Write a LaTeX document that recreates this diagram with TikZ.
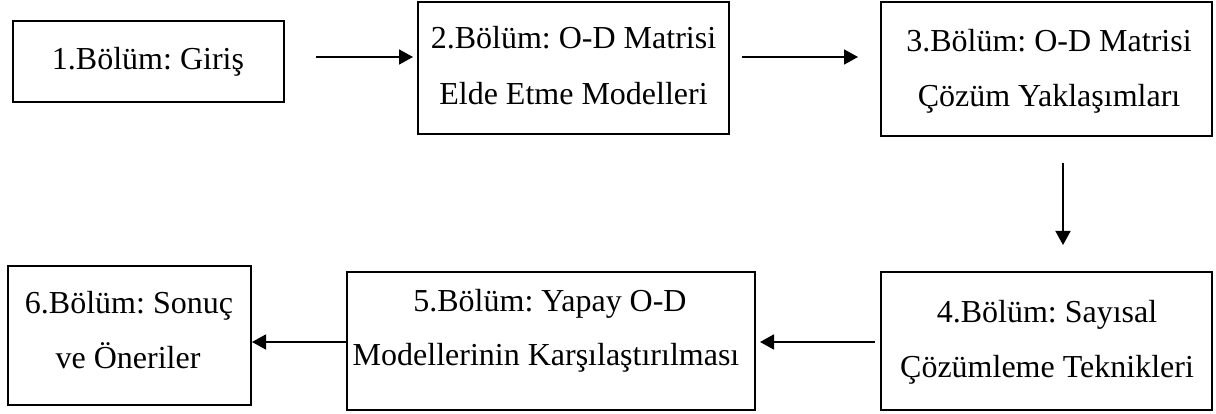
\documentclass[tikz,border=0pt]{standalone}
\usepackage{fontspec}
\setmainfont{Liberation Serif}
\usetikzlibrary{arrows.meta}
\frenchspacing
\tikzset{
  box/.style={draw=black, line width=1.7pt, inner sep=0pt, fill=none},
  txt/.style={anchor=base, inner sep=0pt, font=\fontsize{32}{32}\selectfont},
  arr/.style={line width=1.7pt, -{Triangle[length=14pt,width=15pt]}}
}
\begin{document}
\begin{tikzpicture}[x=1pt,y=-1pt]
\useasboundingbox (0,0) rectangle (1216,414);
% boxes
\node[box, minimum width=271pt, minimum height=81pt]  (b1) at (148.5,61.5) {};
\node[box, minimum width=311pt, minimum height=132pt] (b2) at (573.5,68) {};
\node[box, minimum width=331pt, minimum height=134pt] (b3) at (1046.5,69) {};
\node[box, minimum width=331pt, minimum height=138pt] (b4) at (1046.5,341) {};
\node[box, minimum width=408pt, minimum height=138pt] (b5) at (551,341) {};
\node[box, minimum width=243pt, minimum height=139pt] (b6) at (129.5,335.5) {};
% texts
\node[txt] (t1) at (148,70) {1.Bölüm: Giriş};
\node[txt] (t2a) at (573.5,49) {2.Bölüm: O-D Matrisi};
\node[txt] (t2b) at (573.5,105) {Elde Etme Modelleri};
\node[txt] (t3a) at (1049,52) {3.Bölüm: O-D Matrisi};
\node[txt] (t3b) at (1049,107) {Çözüm Yaklaşımları};
\node[txt] (t4a) at (1047,323) {4.Bölüm: Sayısal};
\node[txt] (t4b) at (1047,377) {Çözümleme Teknikleri};
\node[txt] (t5a) at (550,312) {5.Bölüm: Yapay O-D};
\node[txt] (t5b) at (546,365) {Modellerinin Karşılaştırılması};
\node[txt] (t6a) at (129,313) {6.Bölüm: Sonuç};
\node[txt] (t6b) at (128,368) {ve Öneriler};
% arrow end points
\coordinate (a1s) at (316,57);  \coordinate (a1e) at (413,57);
\coordinate (a2s) at (742,57);  \coordinate (a2e) at (858,57);
\coordinate (a3s) at (1063,163); \coordinate (a3e) at (1063,245);
\coordinate (a4s) at (875,342); \coordinate (a4e) at (760,342);
\coordinate (a5s) at (347,342); \coordinate (a5e) at (252,342);
\draw[arr] (a1s) -- (a1e);
\draw[arr] (a2s) -- (a2e);
\draw[arr] (a3s) -- (a3e);
\draw[arr] (a4s) -- (a4e);
\draw[arr] (a5s) -- (a5e);
\end{tikzpicture}
\end{document}
